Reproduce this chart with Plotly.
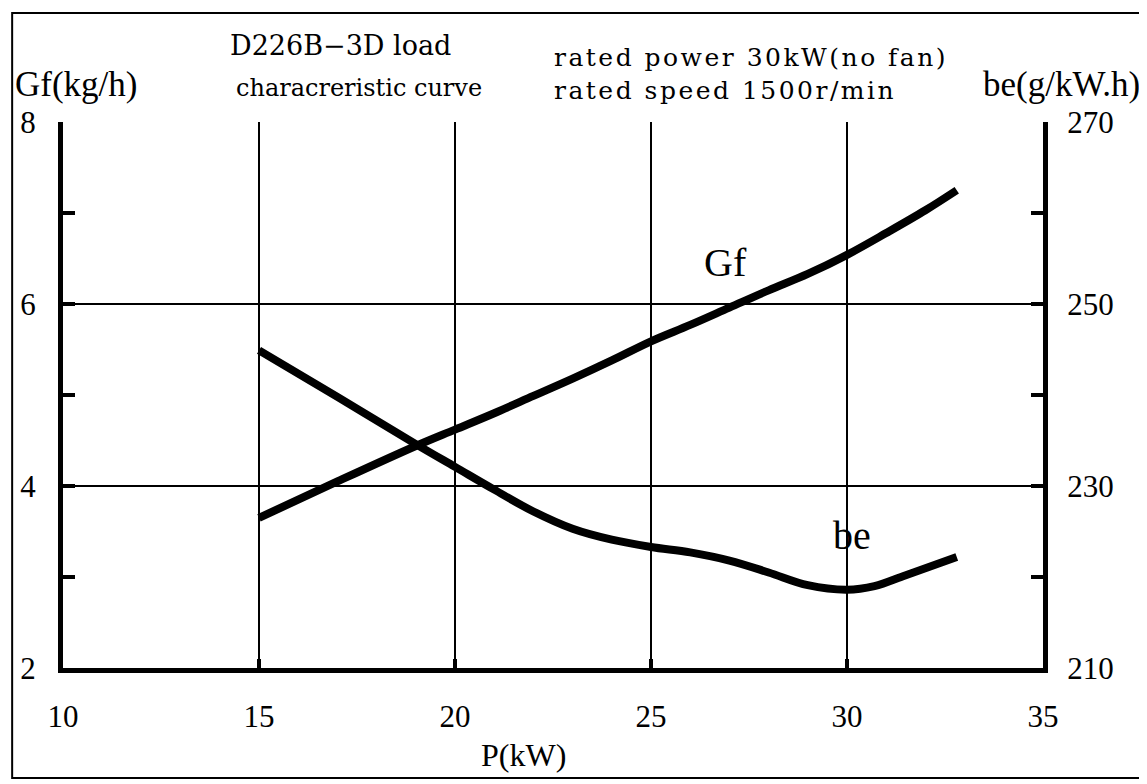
import plotly.graph_objects as go

# Data
p_gf = [15, 17, 19, 20, 21, 22, 23, 24, 25, 26, 27, 28, 29, 30, 31, 32, 32.8]
gf = [3.65, 4.05, 4.44, 4.62, 4.80, 4.99, 5.18, 5.38, 5.59, 5.77, 5.96, 6.15, 6.33, 6.54, 6.78, 7.03, 7.25]

p_be = [15, 17, 19, 20, 21, 22, 23, 24, 25, 26, 27, 28, 29, 30, 30.7, 31.5, 32.8]
be = [244.9, 239.8, 234.6, 232.1, 229.6, 227.2, 225.3, 224.1, 223.3, 222.7, 221.8, 220.5, 219.1, 218.6, 219.0, 220.2, 222.2]

x_ticks = [10, 15, 20, 25, 30, 35]
gf_ticks = [2, 4, 6, 8]
be_ticks = [210, 230, 250, 270]

SERIF = "Liberation Serif"
WIDE = "DejaVu Serif"
OFF = 8  # page body margin
W, H = 1147 - OFF, 784 - OFF
L, T = 60 - OFF, 122 - OFF
R = W - (1043 - OFF)
B = H - (668 - OFF)
pw, ph = W - L - R, H - T - B


def px(xp):
    return (xp - OFF - L) / pw


def py(yp):
    return (H - B - (yp - OFF)) / ph


fig = go.Figure()
fig.add_trace(go.Scatter(x=p_gf, y=gf, mode="lines", line=dict(color="black", width=8, shape="spline", smoothing=1),
                         showlegend=False, hoverinfo="skip"))
fig.add_trace(go.Scatter(x=p_be, y=be, mode="lines", line=dict(color="black", width=8, shape="spline", smoothing=1),
                         yaxis="y2", showlegend=False, hoverinfo="skip"))

TICKF = dict(family=SERIF, size=31, color="black")

fig.update_layout(
    width=W, height=H,
    margin=dict(l=L, r=R, t=T, b=B, pad=0),
    paper_bgcolor="white", plot_bgcolor="white",
    font=dict(family=SERIF, color="black", size=30),
    xaxis=dict(range=[10, 35], tickmode="array", tickvals=x_ticks, ticktext=[str(v) for v in x_ticks],
               showgrid=True, gridcolor="black", gridwidth=2, zeroline=False,
               showline=True, linecolor="black", linewidth=5,
               ticks="inside", ticklen=9, tickwidth=4, tickcolor="black",
               ticklabelstandoff=17, tickfont=TICKF),
    yaxis=dict(range=[2, 8], tickmode="array", tickvals=gf_ticks, ticktext=[str(v) for v in gf_ticks],
               showgrid=True, gridcolor="black", gridwidth=2, zeroline=False,
               showline=True, linecolor="black", linewidth=5,
               ticks="inside", ticklen=12, tickwidth=4, tickcolor="black",
               minor=dict(dtick=1, tick0=2, ticks="inside", ticklen=12, tickwidth=4, tickcolor="black", showgrid=False),
               ticklabelstandoff=16, tickfont=TICKF),
    yaxis2=dict(range=[210, 270], overlaying="y", side="right", tickmode="array", tickvals=be_ticks,
                ticktext=[str(v) for v in be_ticks], showgrid=False, zeroline=False,
                showline=True, linecolor="black", linewidth=5,
                ticks="inside", ticklen=12, tickwidth=4, tickcolor="black",
                minor=dict(dtick=10, tick0=210, ticks="inside", ticklen=12, tickwidth=4, tickcolor="black", showgrid=False),
                ticklabelstandoff=13, tickfont=TICKF),
)

# outer frame
fig.add_shape(type="rect", xref="paper", yref="paper", x0=px(9), x1=px(1143), y0=py(778), y1=py(13),
              line=dict(color="black", width=2), layer="below")

ann = [
    ("D226B−3D load", px(226), py(45), "left", 27, WIDE),
    ("characreristic curve", px(232), py(88), "left", 24, WIDE),
    ("Gf(kg/h)", px(10), py(84), "left", 35, SERIF),
    ("be(g/kW.h)", px(1142), py(84), "right", 35, SERIF),
    ("P(kW)", px(522), py(755), "center", 32, SERIF),
]
for text, x, y, xa, size, fam in ann:
    fig.add_annotation(text=text, x=x, y=y, xref="paper", yref="paper", xanchor=xa, yanchor="middle",
                       showarrow=False, font=dict(family=fam, size=size, color="black"))

spaced1 = "\u200a".join("rated power 30kW(no fan)")
spaced2 = "\u200a".join("rated speed 1500r/min")
for text, y in [(spaced1, py(58)), (spaced2, py(90))]:
    fig.add_annotation(text=text, x=px(550), y=y, xref="paper", yref="paper", xanchor="left", yanchor="middle",
                       showarrow=False, font=dict(family=WIDE, size=25, color="black"))

fig.add_annotation(text="Gf", x=26.89, y=6.46, xref="x", yref="y", showarrow=False,
                   font=dict(family=SERIF, size=40, color="black"))
fig.add_annotation(text="be", x=30.14, y=224.6, xref="x", yref="y2", showarrow=False,
                   font=dict(family=SERIF, size=40, color="black"))

fig.write_html("out.html")
